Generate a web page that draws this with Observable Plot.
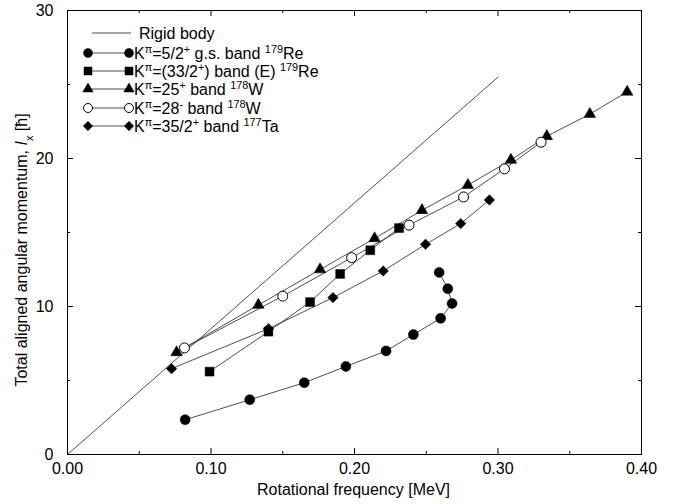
<!DOCTYPE html>
<html><head><meta charset="utf-8">
<script src="https://cdn.jsdelivr.net/npm/d3@7"></script>
<script src="https://cdn.jsdelivr.net/npm/@observablehq/plot@0.6"></script>
<style>
body{margin:0;background:#fff;}
#chart{position:relative;width:678px;height:504px;}
svg{font-family:"Liberation Sans",Arial,sans-serif;}
</style>
</head><body><div id="chart"></div>
<script>
// ---- data ----
const rigidX = [0, 0.30];
const rigidY = [0, 25.5];

const reGsX = [0.082, 0.127, 0.165, 0.194, 0.222, 0.241, 0.260, 0.268, 0.265, 0.259];
const reGsY = [2.35, 3.7, 4.85, 5.95, 7.0, 8.1, 9.2, 10.2, 11.2, 12.3];

const reEX = [0.099, 0.140, 0.169, 0.190, 0.211, 0.231];
const reEY = [5.6, 8.3, 10.3, 12.2, 13.8, 15.3];

const w25X = [0.076, 0.133, 0.176, 0.214, 0.247, 0.279, 0.309, 0.334, 0.364, 0.390];
const w25Y = [6.9, 10.1, 12.5, 14.6, 16.5, 18.2, 19.9, 21.5, 23.0, 24.5];

const w28X = [0.0815, 0.150, 0.198, 0.238, 0.276, 0.3045, 0.330];
const w28Y = [7.2, 10.7, 13.3, 15.5, 17.4, 19.3, 21.1];

const taX = [0.0725, 0.140, 0.185, 0.220, 0.2495, 0.274, 0.294];
const taY = [5.8, 8.5, 10.6, 12.4, 14.2, 15.6, 17.2];

const xTickLabels = [0, 0.1, 0.2, 0.3, 0.4];
const xMinorTicks = [0.05, 0.15, 0.25, 0.35];
const yTickLabels = [0, 10, 20, 30];
const yMinorTicks = [5, 15, 25];

const xTitle = "Rotational frequency [MeV]";
// segments: [text, style] style: "" normal, "sup", "sub", "it"
const yTitle = [["Total aligned angular momentum, ", ""], ["I", "it"], ["x", "sub"], [" [\u0127]", ""]];
const legendLabels = [
  [["Rigid body", ""]],
  [["K", ""], ["\u03c0", "sup"], ["=5/2", ""], ["+", "sup"], [" g.s. band ", ""], ["179", "sup"], ["Re", ""]],
  [["K", ""], ["\u03c0", "sup"], ["=(33/2", ""], ["+", "sup"], [") band (E) ", ""], ["179", "sup"], ["Re", ""]],
  [["K", ""], ["\u03c0", "sup"], ["=25", ""], ["+", "sup"], [" band ", ""], ["178", "sup"], ["W", ""]],
  [["K", ""], ["\u03c0", "sup"], ["=28", ""], ["-", "sup"], [" band ", ""], ["178", "sup"], ["W", ""]],
  [["K", ""], ["\u03c0", "sup"], ["=35/2", ""], ["+", "sup"], [" band ", ""], ["177", "sup"], ["Ta", ""]]
];

// ---- build tables ----
const pts = (xs, ys) => xs.map((x, i) => ({x, y: ys[i]}));
const series = [
  {data: pts(reGsX, reGsY), symbol: "circle", r: 5, fill: "black"},
  {data: pts(reEX, reEY), symbol: "square", r: 5, fill: "black"},
  {data: pts(w25X, w25Y), symbol: "triangle", r: 4.3, fill: "black"},
  {data: pts(w28X, w28Y), symbol: "circle", r: 5, fill: "white"},
  {data: pts(taX, taY), symbol: "diamond2", r: 4.7, fill: "black"}
];

const W = 678, H = 504, mL = 67, mR = 37, mT = 10, mB = 50;
const fw = W - mL - mR, fh = H - mT - mB;
const lineColor = "#222";
const FS = 16;

const marks = [
  Plot.line(pts(rigidX, rigidY), {x: "x", y: "y", stroke: lineColor, strokeWidth: 0.8}),
  ...series.map(s => Plot.line(s.data, {x: "x", y: "y", stroke: lineColor, strokeWidth: 0.8})),
  ...series.map(s => Plot.dot(s.data, {x: "x", y: "y", symbol: () => s.symbol, r: s.r, fill: s.fill, stroke: "black", strokeWidth: s.fill === "white" ? 1 : 0.5})),
  // inward ticks
  Plot.tickX(xTickLabels, {x: d => d, insetTop: fh - 6, stroke: "black"}),
  Plot.tickX(xMinorTicks, {x: d => d, insetTop: fh - 3, stroke: "black"}),
  Plot.tickX(xTickLabels, {x: d => d, insetBottom: fh - 6, stroke: "black"}),
  Plot.tickX(xMinorTicks, {x: d => d, insetBottom: fh - 3, stroke: "black"}),
  Plot.tickY(yTickLabels, {y: d => d, insetRight: fw - 6, stroke: "black"}),
  Plot.tickY(yMinorTicks, {y: d => d, insetRight: fw - 3, stroke: "black"}),
  Plot.tickY(yTickLabels, {y: d => d, insetLeft: fw - 6, stroke: "black"}),
  Plot.tickY(yMinorTicks, {y: d => d, insetLeft: fw - 3, stroke: "black"}),
  Plot.axisX(xTickLabels, {tickSize: 0, tickPadding: 8, tickFormat: d3.format(".2f"), label: null, fontSize: FS, fill: "black"}),
  Plot.axisY(yTickLabels, {tickSize: 0, tickPadding: 14, label: null, fontSize: FS, fill: "black"}),
  Plot.frame({stroke: "black", strokeWidth: 1})
];

const svg = Plot.plot({
  width: W, height: H,
  marginLeft: mL, marginRight: mR, marginTop: mT, marginBottom: mB,
  x: {domain: [0, 0.4]},
  y: {domain: [0, 30]},
  style: {fontFamily: '"Liberation Sans", Arial, sans-serif', fontSize: FS + "px", background: "white", color: "black"},
  marks
});
document.getElementById("chart").appendChild(svg);

// ---- rich text helpers ----
function richText(sel, segs, size) {
  segs.forEach(([t, st]) => {
    const ts = sel.append("tspan").text(t);
    if (st === "sup") ts.attr("font-size", size * 0.68).attr("baseline-shift", "super");
    else if (st === "sub") ts.attr("font-size", size * 0.68).attr("baseline-shift", "sub");
    else if (st === "it") ts.attr("font-style", "italic");
  });
}

const root = d3.select(svg);
// axis titles
root.append("text").attr("x", mL + fw / 2 - 0.5).attr("y", 495).attr("text-anchor", "middle")
  .attr("font-size", FS).attr("fill", "black").text(xTitle);
const yt = root.append("text").attr("transform", `translate(27,${mT + fh / 2 + 18}) rotate(-90)`)
  .attr("text-anchor", "middle").attr("font-size", FS).attr("fill", "black");
richText(yt, yTitle, FS);

// legend
const lg = root.append("g").attr("text-anchor", "start");
const rowY = [33, 53, 71, 89, 108, 126];
const symMap = {circle: d3.symbolCircle, square: d3.symbolSquare, triangle: d3.symbolTriangle, diamond2: d3.symbolDiamond2};
legendLabels.forEach((segs, i) => {
  const y = rowY[i];
  if (i === 0) {
    lg.append("line").attr("x1", 92).attr("x2", 131).attr("y1", y).attr("y2", y).attr("stroke", lineColor).attr("stroke-width", 0.8);
    const t = lg.append("text").attr("x", 139).attr("y", y + 5.5).attr("text-anchor", "start").attr("font-size", FS).attr("fill", "black");
    richText(t, segs, FS);
  } else {
    const s = series[i - 1];
    lg.append("line").attr("x1", 88).attr("x2", 129).attr("y1", y).attr("y2", y).attr("stroke", lineColor).attr("stroke-width", 0.8);
    const path = d3.symbol(symMap[s.symbol], Math.PI * (s.r * 0.9) ** 2)();
    [88, 129].forEach(x => lg.append("path").attr("d", path).attr("transform", `translate(${x},${y})`)
      .attr("fill", s.fill).attr("stroke", "black").attr("stroke-width", s.fill === "white" ? 1 : 0.5));
    const t = lg.append("text").attr("x", 134).attr("y", y + 5.5).attr("text-anchor", "start").attr("font-size", FS).attr("fill", "black");
    richText(t, segs, FS);
  }
});
</script>
</body></html>
